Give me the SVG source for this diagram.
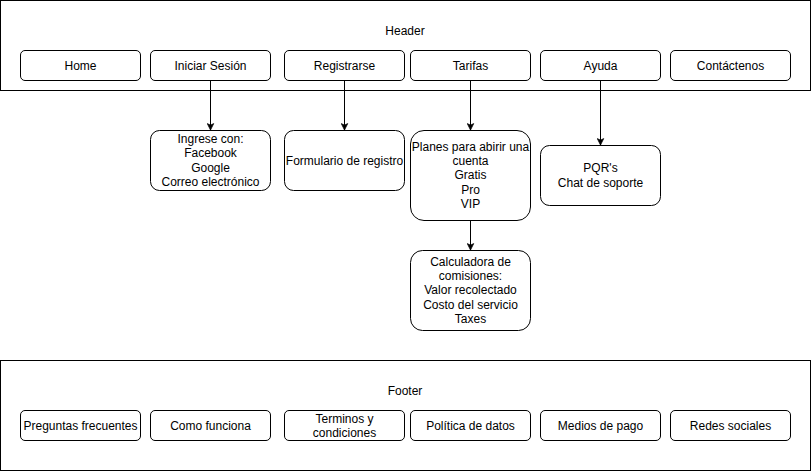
<svg xmlns="http://www.w3.org/2000/svg" width="811" height="471" viewBox="0 0 811 471">
  <style>
    .frame { fill: #ffffff; stroke: #000000; stroke-width: 1; }
    .box { fill: #ffffff; stroke: #000000; stroke-width: 1; }
    .lbl { font-family: "Liberation Sans", Arial, Helvetica, sans-serif; font-size: 12px; fill: #000000; text-anchor: middle; }
    .edge { fill: none; stroke: #000000; stroke-width: 1; }
  </style>
  <defs>
    <marker id="arrow" viewBox="0 0 10 10" refX="9" refY="5" markerWidth="8" markerHeight="8" markerUnits="userSpaceOnUse" orient="auto">
      <path d="M1,1 L9,5 L1,9 L3,5 Z" fill="#000000" stroke="#000000" stroke-width="1"/>
    </marker>
  </defs>
  <rect width="811" height="471" fill="#ffffff"/>

  <!-- Header bar -->
  <g id="header">
    <rect class="frame" x="0.5" y="0.5" width="810" height="90"/>
    <text class="lbl" x="405" y="35">Header</text>
  </g>
  <g id="home">
    <rect class="box" x="20.5" y="50.5" width="120" height="30" rx="4.5"/>
    <text class="lbl" x="80.5" y="70">Home</text>
  </g>
  <g id="iniciar-sesion">
    <rect class="box" x="150.5" y="50.5" width="120" height="30" rx="4.5"/>
    <text class="lbl" x="210.5" y="70">Iniciar Sesión</text>
  </g>
  <g id="registrarse">
    <rect class="box" x="284.5" y="50.5" width="120" height="30" rx="4.5"/>
    <text class="lbl" x="344.5" y="70">Registrarse</text>
  </g>
  <g id="tarifas">
    <rect class="box" x="410.5" y="50.5" width="120" height="30" rx="4.5"/>
    <text class="lbl" x="470.5" y="70">Tarifas</text>
  </g>
  <g id="ayuda">
    <rect class="box" x="540.5" y="50.5" width="120" height="30" rx="4.5"/>
    <text class="lbl" x="600.5" y="70">Ayuda</text>
  </g>
  <g id="contactenos">
    <rect class="box" x="670.5" y="50.5" width="120" height="30" rx="4.5"/>
    <text class="lbl" x="730.5" y="70">Contáctenos</text>
  </g>

  <!-- Detail boxes -->
  <g id="ingrese-con">
    <rect class="box" x="150.5" y="130.5" width="120" height="60" rx="9"/>
    <text class="lbl" x="210.5" y="143">Ingrese con:</text>
    <text class="lbl" x="210.5" y="157.4">Facebook</text>
    <text class="lbl" x="210.5" y="171.8">Google</text>
    <text class="lbl" x="210.5" y="186.2">Correo electrónico</text>
  </g>
  <g id="formulario">
    <rect class="box" x="284.5" y="130.5" width="120" height="60" rx="9"/>
    <text class="lbl" x="344.5" y="164.5">Formulario de registro</text>
  </g>
  <g id="planes">
    <rect class="box" x="410.5" y="130.5" width="120" height="90" rx="13.5"/>
    <text class="lbl" x="470.5" y="150.6">Planes para abirir una</text>
    <text class="lbl" x="470.5" y="165">cuenta</text>
    <text class="lbl" x="470.5" y="179.4">Gratis</text>
    <text class="lbl" x="470.5" y="193.8">Pro</text>
    <text class="lbl" x="470.5" y="208.2">VIP</text>
  </g>
  <g id="soporte">
    <rect class="box" x="540.5" y="145.5" width="120" height="60" rx="9"/>
    <text class="lbl" x="600.5" y="172.2">PQR's</text>
    <text class="lbl" x="600.5" y="186.6">Chat de soporte</text>
  </g>
  <g id="calculadora">
    <rect class="box" x="410.5" y="250.5" width="120" height="80" rx="12"/>
    <text class="lbl" x="470.5" y="265.6">Calculadora de</text>
    <text class="lbl" x="470.5" y="280">comisiones:</text>
    <text class="lbl" x="470.5" y="294.4">Valor recolectado</text>
    <text class="lbl" x="470.5" y="308.8">Costo del servicio</text>
    <text class="lbl" x="470.5" y="323.2">Taxes</text>
  </g>

  <!-- Footer bar -->
  <g id="footer">
    <rect class="frame" x="0.5" y="360.5" width="810" height="110"/>
    <text class="lbl" x="405" y="395">Footer</text>
  </g>
  <g id="preguntas">
    <rect class="box" x="20.5" y="410.5" width="120" height="30" rx="4.5"/>
    <text class="lbl" x="80.5" y="430">Preguntas frecuentes</text>
  </g>
  <g id="como-funciona">
    <rect class="box" x="150.5" y="410.5" width="120" height="30" rx="4.5"/>
    <text class="lbl" x="210.5" y="430">Como funciona</text>
  </g>
  <g id="terminos">
    <rect class="box" x="284.5" y="410.5" width="120" height="30" rx="4.5"/>
    <text class="lbl" x="344.5" y="422.6">Terminos y</text>
    <text class="lbl" x="344.5" y="437">condiciones</text>
  </g>
  <g id="politica">
    <rect class="box" x="410.5" y="410.5" width="120" height="30" rx="4.5"/>
    <text class="lbl" x="470.5" y="430">Política de datos</text>
  </g>
  <g id="medios-pago">
    <rect class="box" x="540.5" y="410.5" width="120" height="30" rx="4.5"/>
    <text class="lbl" x="600.5" y="430">Medios de pago</text>
  </g>
  <g id="redes">
    <rect class="box" x="670.5" y="410.5" width="120" height="30" rx="4.5"/>
    <text class="lbl" x="730.5" y="430">Redes sociales</text>
  </g>

  <!-- Connectors -->
  <g id="connectors">
    <line class="edge" x1="210.5" y1="81" x2="210.5" y2="130" marker-end="url(#arrow)"/>
    <line class="edge" x1="344.5" y1="81" x2="344.5" y2="130" marker-end="url(#arrow)"/>
    <line class="edge" x1="470.5" y1="81" x2="470.5" y2="130" marker-end="url(#arrow)"/>
    <line class="edge" x1="600.5" y1="81" x2="600.5" y2="145" marker-end="url(#arrow)"/>
    <line class="edge" x1="470.5" y1="221" x2="470.5" y2="250" marker-end="url(#arrow)"/>
  </g>
</svg>
